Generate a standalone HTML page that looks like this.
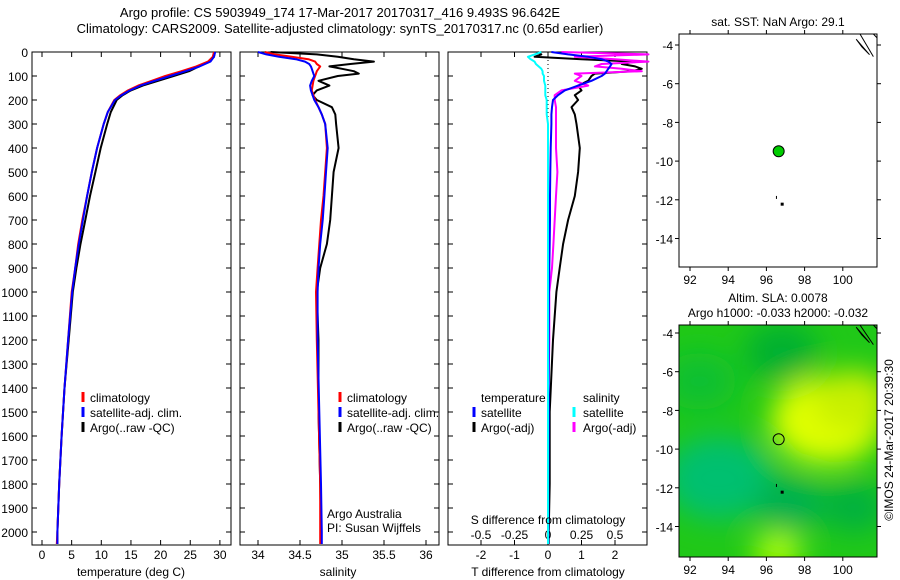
<!DOCTYPE html>
<html><head><meta charset="utf-8"><style>
html,body{margin:0;padding:0;background:#fff;}
svg{display:block;font-family:"Liberation Sans",sans-serif;}
text{font-size:12px;fill:#000;}
</style></head><body>
<svg id="chart" width="900" height="580" viewBox="0 0 900 580">
<defs>
<filter id="blur" x="-50%" y="-50%" width="200%" height="200%"><feGaussianBlur stdDeviation="14"/></filter>
<clipPath id="mapclip"><rect x="679" y="325" width="198" height="232"/></clipPath>
</defs>
<text x="340" y="17" text-anchor="middle" style="font-size:13px">Argo profile: CS 5903949_174 17-Mar-2017 20170317_416 9.493S 96.642E</text>
<text x="340" y="33" text-anchor="middle" style="font-size:13px">Climatology: CARS2009. Satellite-adjusted climatology: synTS_20170317.nc (0.65d earlier)</text>
<g id="g"></g>
</svg>
<script>
// ---- data ----
const depthTicks=[0,100,200,300,400,500,600,700,800,900,1000,1100,1200,1300,1400,1500,1600,1700,1800,1900,2000];
const tempTicks=[0,5,10,15,20,25,30];
const salTicks=[34,34.5,35,35.5,36];
const tdiffTicks=[-2,-1,0,1,2];
const sdiffTicks=[-0.5,-0.25,0,0.25,0.5];
const tempDepth=[0,20,40,60,80,100,120,140,160,180,200,250,300,400,500,600,700,800,900,1000,1200,1400,1600,1800,2000,2050];
const tempClim=[29.0,28.8,28.0,26.0,23.5,20.8,18.5,16.2,14.5,13.2,12.2,11.1,10.4,9.3,8.4,7.6,6.8,6.1,5.6,5.0,4.4,3.8,3.3,2.9,2.6,2.5];
const tempSat=[29.2,29.0,28.4,26.6,24.2,21.6,19.0,16.6,14.8,13.4,12.3,11.1,10.4,9.3,8.4,7.6,6.9,6.2,5.6,5.1,4.4,3.8,3.3,2.9,2.6,2.6];
const tempArgo=[29.1,29.0,28.2,26.5,24.8,22.2,19.6,17.0,15.0,13.6,12.6,11.6,11.0,9.9,9.0,8.1,7.3,6.5,5.8,5.2,4.5,3.8,3.3,2.9,2.6,2.6];
const salDepth=[0,10,20,30,40,50,60,70,80,90,100,120,140,160,180,200,230,260,300,400,500,600,700,800,900,1000,1200,1500,1800,2000,2050];
const salClim=[34.08,34.2,34.4,34.6,34.68,34.7,34.74,34.72,34.70,34.69,34.68,34.66,34.65,34.64,34.66,34.68,34.72,34.76,34.8,34.82,34.8,34.78,34.75,34.73,34.71,34.69,34.7,34.72,34.74,34.74,34.74];
const salSat=[34.0,34.1,34.25,34.45,34.56,34.61,34.63,34.64,34.65,34.66,34.67,34.64,34.62,34.63,34.65,34.67,34.72,34.76,34.8,34.83,34.81,34.79,34.77,34.74,34.72,34.71,34.71,34.73,34.75,34.76,34.76];
const salArgo=[34.15,34.7,34.95,35.14,35.38,35.1,34.85,35.0,35.14,35.2,34.95,34.72,34.85,34.7,34.65,34.7,34.88,34.92,34.93,34.96,34.9,34.88,34.86,34.82,34.74,34.7,34.72,34.72,34.74,34.75,34.75];
const difDepth=[0,10,20,30,40,50,60,70,80,90,100,120,140,160,180,200,230,260,300,400,500,600,700,800,900,1000,1200,1500,1800,2000,2050];
const tdSat=[0.1,0.6,1.2,1.6,1.8,1.9,1.85,1.8,1.75,1.7,1.6,1.3,0.9,0.5,0.3,0.15,0.12,0.1,0.1,0.08,0.07,0.06,0.06,0.05,0.04,0.03,0.02,0.02,0.01,0.01,0.01];
const tdArgo=[-0.3,-0.2,-0.4,1.0,2.6,2.2,2.6,2.8,2.5,1.4,1.3,1.2,0.9,1.0,0.8,0.9,0.7,0.8,0.85,0.95,0.9,0.8,0.6,0.45,0.35,0.25,0.15,0.05,0.05,0.02,0.02];
const sdSat=[-0.05,-0.1,-0.15,-0.13,-0.1,-0.09,-0.07,-0.05,-0.04,-0.04,-0.03,-0.03,-0.02,-0.02,-0.02,-0.01,-0.01,-0.01,0,0,0,0,0,0,0,0,0,0,0,0,0];
const sdArgo=[0.1,0.75,0.2,0.5,0.75,0.4,0.35,0.55,0.7,0.2,0.25,0.2,0.3,0.1,0.05,0.05,0.06,0.06,0.06,0.06,0.07,0.06,0.05,0.04,0.03,0.01,0.01,0,0,0,0];
const mapLonTicks=[92,94,96,98,100];
const mapLatTicks=[-4,-6,-8,-10,-12,-14];
const argoLon=96.642, argoLat=-9.493;
const blobLon=[99.2,100.5,93.5,97.2,100.6,96.8,96.6,92.5];
const blobLat=[-8.5,-7.5,-11.5,-12.8,-13,-5,-15.3,-6.5];
const blobColor=['#e0ff00','#c8f000','#00c070','#00b050','#00b040','#00b030','#b0ff00','#10c030'];
const blobR=[2.3,1.6,2.2,1.4,1.3,1.5,1.0,1.5];

// ---- helpers ----
const NS='http://www.w3.org/2000/svg';
const G=document.getElementById('g');
function mk(tag,attrs,parent){const e=document.createElementNS(NS,tag);for(const k in attrs)e.setAttribute(k,attrs[k]);(parent||G).appendChild(e);return e;}
const yTop=52,yPx=0.24;
function yD(d){return yTop+d*yPx;}
const yBot=545;
function polyline(xs,ds,xf,color,w,name){
  const pts=xs.map((v,i)=>xf(v).toFixed(1)+','+yD(ds[i]).toFixed(1)).join(' ');
  const p=mk('polyline',{points:pts,fill:'none',stroke:color,'stroke-width':w,'stroke-linejoin':'round'});
  
  
}
function frame(x0,x1,name){
  const r=mk('rect',{x:x0,y:yTop,width:x1-x0,height:yBot-yTop,fill:'none',stroke:'#000','stroke-width':1});
  
  
  depthTicks.forEach(d=>{
    mk('line',{x1:x0,x2:x0+5,y1:yD(d),y2:yD(d),stroke:'#000'});
    mk('line',{x1:x1,x2:x1-5,y1:yD(d),y2:yD(d),stroke:'#000'});
  });
}
function xticks(x0,ticks,xf,ylab,name,top){
  ticks.forEach(t=>{
    const x=xf(t);
    mk('line',{x1:x,x2:x,y1:yBot,y2:yBot-5,stroke:'#000'});
    if(!top) mk('line',{x1:x,x2:x,y1:yTop,y2:yTop+5,stroke:'#000'});
    const tx=mk('text',{x:x,y:ylab,'text-anchor':'middle'});tx.textContent=String(t);
    
    
  });
}
function label(x,y,s,name,anchor){const t=mk('text',{x:x,y:y,'text-anchor':anchor||'start'});t.textContent=s;return t;}
function legMark(x,y,c){mk('line',{x1:x,x2:x,y1:y-10,y2:y,stroke:c,'stroke-width':3});}

depthTicks.forEach(d=>{const t=label(28,yD(d)+5,String(d),'depth-tick-label','end');});

// panel 1 temperature
const xT=v=>42+v*5.93;
frame(32,231,'temperature-panel');
xticks(32,tempTicks,xT,559,'temperature-tick-label');
polyline(tempArgo,tempDepth,xT,'#000',2,'temp-argo-line');
polyline(tempClim,tempDepth,xT,'#f00',2,'temp-climatology-line');
polyline(tempSat,tempDepth,xT,'#00f',2,'temp-satellite-line');
label(131,576,'temperature (deg C)','temperature-axis-title','middle');
legMark(83,402,'#f00');label(90,402,'climatology','legend-climatology');
legMark(83,417,'#00f');label(90,417,'satellite-adj. clim.','legend-satellite');
legMark(83,432,'#000');label(90,432,'Argo(..raw -QC)','legend-argo');

// panel 2 salinity
const xS=v=>258+(v-34)*84;
frame(240,439,'salinity-panel');
xticks(240,salTicks,xS,559,'salinity-tick-label');
polyline(salArgo,salDepth,xS,'#000',2,'sal-argo-line');
polyline(salClim,salDepth,xS,'#f00',2,'sal-climatology-line');
polyline(salSat,salDepth,xS,'#00f',2,'sal-satellite-line');
label(338,576,'salinity','salinity-axis-title','middle');
legMark(340,402,'#f00');label(347,402,'climatology','legend-climatology-2');
legMark(340,417,'#00f');label(347,417,'satellite-adj. clim.','legend-satellite-2');
legMark(340,432,'#000');label(347,432,'Argo(..raw -QC)','legend-argo-2');
label(327,518,'Argo Australia','institution-label');
label(327,532,'PI: Susan Wijffels','pi-label');

// panel 3 differences
const xTd=v=>548+v*33.5;
const xSd=v=>548+v*134;
frame(448,647,'difference-panel');
xticks(448,tdiffTicks,xTd,559,'tdiff-tick-label');
sdiffTicks.forEach(t=>{const l=label(xSd(t),539,String(t),'sdiff-tick-label','middle');});
mk('line',{x1:548,x2:548,y1:yTop,y2:yBot,stroke:'#000','stroke-dasharray':'1,3'});
polyline(tdArgo,difDepth,xTd,'#000',2,'tdiff-argo-line');
polyline(sdArgo,difDepth,xSd,'#f0f',2,'sdiff-argo-line');
polyline(tdSat,difDepth,xTd,'#00f',2,'tdiff-satellite-line');
polyline(sdSat,difDepth,xSd,'#0ff',2,'sdiff-satellite-line');
label(548,524,'S difference from climatology','sdiff-axis-title','middle');
label(548,576,'T difference from climatology','tdiff-axis-title','middle');
label(481,402,'temperature','legend-temperature-header');
label(583,402,'salinity','legend-salinity-header');
legMark(474,417,'#00f');label(481,417,'satellite','legend-tdiff-satellite');
legMark(474,432,'#000');label(481,432,'Argo(-adj)','legend-tdiff-argo');
legMark(574,417,'#0ff');label(583,417,'satellite','legend-sdiff-satellite');
legMark(574,432,'#f0f');label(583,432,'Argo(-adj)','legend-sdiff-argo');

// maps
function mapAxes(top,bottom,lat4y,name){
  const lx=v=>690+(v-92)*19.1;
  const ly=v=>lat4y+(-4-v)*19.35;
  const r=mk('rect',{x:679,y:top,width:198,height:bottom-top,fill:'none',stroke:'#000'});
  
  
  mapLonTicks.forEach(v=>{mk('line',{x1:lx(v),x2:lx(v),y1:top,y2:top-4,stroke:'#000'});mk('line',{x1:lx(v),x2:lx(v),y1:bottom,y2:bottom+4,stroke:'#000'});label(lx(v),bottom+17,String(v),'lon-tick-label','middle');});
  mapLatTicks.forEach(v=>{mk('line',{x1:679,x2:675,y1:ly(v),y2:ly(v),stroke:'#000'});mk('line',{x1:877,x2:881,y1:ly(v),y2:ly(v),stroke:'#000'});label(673,ly(v)+5,String(v),'lat-tick-label','end');});
  mk('path',{d:`M${lx(100.9)} ${top} L${lx(101.6)} ${ly(-4.6)} M${lx(100.7)} ${ly(-3.7)} L${lx(101.4)} ${ly(-4.5)} L${lx(101.0)} ${ly(-4.1)} Z M${lx(101.6)} ${top} L${lx(101.8)} ${top+4}`,fill:'none',stroke:'#000','stroke-width':1});
  mk('rect',{x:lx(96.5),y:ly(-11.8),width:1,height:3,fill:'#000'});
  mk('rect',{x:lx(96.8)-1,y:ly(-12.2)-1,width:3,height:3,fill:'#000'});
  return [lx,ly];
}
const [lx1,ly1]=mapAxes(34,267,45,'sst-map');
label(778,26,'sat. SST: NaN Argo: 29.1','sst-map-title','middle');
const c1=mk('circle',{cx:lx1(argoLon),cy:ly1(argoLat),r:5.5,fill:'#0c0',stroke:'#000'});


const lx2=v=>690+(v-92)*19.1, ly2=v=>333+(-4-v)*19.35;
const bg=mk('g',{'clip-path':'url(#mapclip)'});
mk('rect',{x:679,y:325,width:198,height:232,fill:'#20c818'},bg);
const bl=mk('g',{filter:'url(#blur)'},bg);
blobLon.forEach((v,i)=>{const e=mk('ellipse',{cx:lx2(v),cy:ly2(blobLat[i]),rx:blobR[i]*19*1.3,ry:blobR[i]*19,fill:blobColor[i]},bl);
  
  });
const [lx3,ly3]=mapAxes(325,557,333,'sla-map');
label(778,302,'Altim. SLA: 0.0078','sla-map-title','middle');
label(778,317,'Argo h1000: -0.033 h2000: -0.032','sla-map-subtitle','middle');
const c2=mk('circle',{cx:lx3(argoLon),cy:ly3(argoLat),r:5.5,fill:'none',stroke:'#000'});


const cr=mk('text',{x:0,y:0,transform:'translate(893,440) rotate(-90)','text-anchor':'middle'});
cr.textContent='©IMOS 24-Mar-2017 20:39:30';


</script>
</body></html>
